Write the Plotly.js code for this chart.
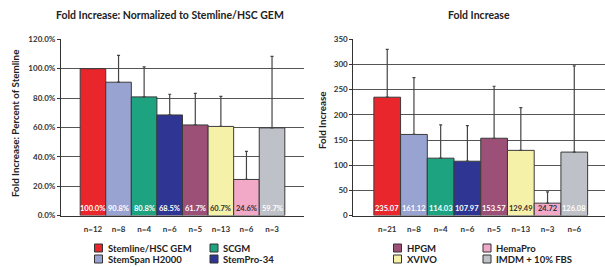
<!DOCTYPE html>
<html><head><meta charset="utf-8">
<script src="https://cdn.plot.ly/plotly-3.0.1.min.js"></script>
<style>html,body{margin:0;padding:0;background:#fff}#chart{width:605px;height:267px}</style>
</head><body><div id="chart"></div>
<script>
// Left chart: normalized to Stemline/HSC GEM (percent)
const leftNames = ["Stemline/HSC GEM","StemSpan H2000","SCGM","StemPro-34","HPGM","XVIVO","HemaPro","IMDM + 10% FBS"];
const leftValues = [100.0, 90.8, 80.8, 68.5, 61.7, 60.7, 24.6, 59.7];
const leftErrors = [0, 18.3, 20.4, 14.1, 21.5, 20.5, 19.1, 48.7];
const leftN = ["n=12","n=8","n=4","n=6","n=5","n=13","n=6","n=3"];
const leftTickVals = [0, 20, 40, 60, 80, 100, 120];

// Right chart: fold increase
const rightValues = [235.07, 161.12, 114.03, 107.97, 153.57, 129.49, 24.72, 126.08];
const rightErrors = [95.1, 112.7, 66.0, 70.6, 103.2, 84.8, 22.3, 171.0];
const rightN = ["n=21","n=8","n=4","n=6","n=5","n=13","n=3","n=6"];
const rightTickVals = [0, 50, 100, 150, 200, 250, 300, 350];

const colors = ["#E8262C","#98A3D2","#1DA380","#2E3593","#9C5077","#F6F1A9","#F2A8C7","#BEC1C7"];
const labelColors = ["#fff","#fff","#fff","#fff","#fff","#333","#333","#fff"];

// legend groups (row-major, 2 columns)
const leftLegend = [0, 2, 1, 3];   // Stemline, SCGM / StemSpan, StemPro
const rightLegend = [4, 6, 5, 7];  // HPGM, HemaPro / XVIVO, IMDM

const idx = leftValues.map((_, i) => i);
const FONT = "Lato, Noto Sans, sans-serif";

const traces = [
  {type:'bar', x: idx, y: leftValues, xaxis:'x', yaxis:'y',
   marker:{color: colors, line:{color:'#3a3a3a', width:1}},
   error_y:{type:'data', symmetric:false, array: leftErrors, arrayminus: leftErrors.map(()=>0),
            color:'#444', thickness:1.2, width:1.5},
   showlegend:false, hoverinfo:'none'},
  {type:'bar', x: idx, y: rightValues, xaxis:'x2', yaxis:'y2',
   marker:{color: colors, line:{color:'#3a3a3a', width:1}},
   error_y:{type:'data', symmetric:false, array: rightErrors, arrayminus: rightErrors.map(()=>0),
            color:'#444', thickness:1.2, width:1.5},
   showlegend:false, hoverinfo:'none'}
];

const annotations = [];
leftValues.forEach((v, i) => annotations.push({
  xref:'x', yref:'y', x:i, y:0, xanchor:'center', yanchor:'bottom', yshift:1, showarrow:false,
  text: v.toFixed(1) + '%', font:{family:FONT, size:7.5, color:labelColors[i], weight:700}
}));
rightValues.forEach((v, i) => annotations.push({
  xref:'x2', yref:'y2', x:i, y:0, xanchor:'center', yanchor:'bottom', yshift:1, showarrow:false,
  text: v.toFixed(2), font:{family:FONT, size:7.5, color:labelColors[i], weight:700}
}));

// titles
annotations.push({xref:'paper', yref:'paper', x:170/605, y:1-15/267, xanchor:'center', yanchor:'middle', showarrow:false,
  text:'Fold Increase: Normalized to Stemline/HSC GEM', font:{family:FONT, size:10.5, color:'#222', weight:700}});
annotations.push({xref:'paper', yref:'paper', x:479/605, y:1-15/267, xanchor:'center', yanchor:'middle', showarrow:false,
  text:'Fold Increase', font:{family:FONT, size:10.5, color:'#222', weight:700}});
annotations.push({xref:'paper', yref:'paper', x:15/605, y:1-124/267, xanchor:'center', yanchor:'middle', showarrow:false, textangle:-90,
  text:'Fold Increase: Percent of Stemline', font:{family:FONT, size:9.8, color:'#222', weight:700}});
annotations.push({xref:'paper', yref:'paper', x:322/605, y:1-121/267, xanchor:'center', yanchor:'middle', showarrow:false, textangle:-90,
  text:'Fold Increase', font:{family:FONT, size:9.8, color:'#222', weight:700}});

// manual legends
const shapes = [];
function addLegend(order, x0, x1) {
  order.forEach((ci, k) => {
    const col = k % 2, row = Math.floor(k / 2);
    const sx = col === 0 ? x0 : x1;
    const cy = 248 + row * 11;
    shapes.push({type:'rect', xref:'paper', yref:'paper',
      x0: sx/605, x1: (sx+8)/605, y0: 1-(cy+4)/267, y1: 1-(cy-4)/267,
      fillcolor: colors[ci], line:{color:'#333', width:1}});
    annotations.push({xref:'paper', yref:'paper', x:(sx+11)/605, y:1-cy/267, xanchor:'left', yanchor:'middle',
      showarrow:false, text: leftNames[ci], font:{family:FONT, size:9.5, color:'#222', weight:700}});
  });
}
addLegend(leftLegend, 94.5, 210);
addLegend(rightLegend, 393.5, 483);

const yDom = [1-215.6/267, 1-39.3/267];
const axisFont = {family:FONT, size:8, color:'#333', weight:700};

const layout = {
  width:605, height:267, margin:{l:0, r:0, t:0, b:0},
  paper_bgcolor:'#fff', plot_bgcolor:'#fff', bargap:0, showlegend:false,
  xaxis:{domain:[61/605, 304/605], range:[-1.25, 8.25], tickvals: idx, ticktext: leftN,
         showgrid:false, zeroline:false, showline:true, linecolor:'#333', linewidth:1,
         ticks:'', tickfont:axisFont, ticklabelstandoff:6, fixedrange:true},
  yaxis:{domain:yDom, range:[0, 120], tickvals:leftTickVals,
         ticktext: leftTickVals.map(v => v.toFixed(1) + '%'),
         showgrid:true, gridcolor:'#555', gridwidth:1, zeroline:false,
         showline:true, linecolor:'#333', linewidth:1, ticks:'outside', ticklen:3, tickcolor:'#333',
         tickfont:axisFont, fixedrange:true},
  xaxis2:{domain:[353.3/605, 1], range:[-1.27, 8.15], tickvals: idx, ticktext: rightN, anchor:'y2',
         showgrid:false, zeroline:false, showline:true, linecolor:'#333', linewidth:1,
         ticks:'', tickfont:axisFont, ticklabelstandoff:6, fixedrange:true},
  yaxis2:{domain:yDom, range:[0, 350], tickvals:rightTickVals, anchor:'x2',
         showgrid:true, gridcolor:'#555', gridwidth:1, zeroline:false,
         showline:true, linecolor:'#333', linewidth:1, ticks:'outside', ticklen:3, tickcolor:'#333',
         tickfont:axisFont, fixedrange:true},
  annotations: annotations, shapes: shapes
};

Plotly.newPlot('chart', traces, layout, {staticPlot:true, displayModeBar:false});
</script></body></html>
